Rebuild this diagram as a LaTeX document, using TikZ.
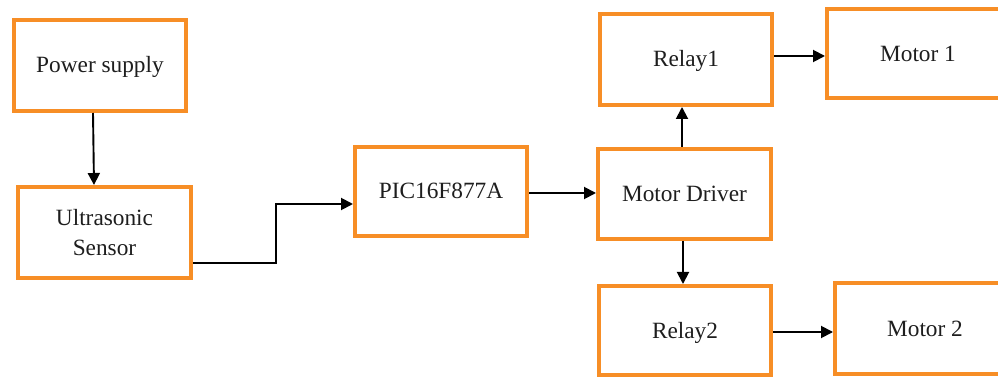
\documentclass[tikz,border=0pt]{standalone}
\usepackage{fontspec}
\setmainfont{Liberation Serif}
\usetikzlibrary{arrows.meta,calc}
\definecolor{boxorange}{RGB}{247,142,38}
\definecolor{txt}{RGB}{30,30,30}
\begin{document}
\begin{tikzpicture}[x=1pt,y=-1pt,
  blk/.style={draw=boxorange,line width=4pt,fill=white,minimum width=172pt,minimum height=90pt,
    inner sep=0pt,align=center,text=txt,font=\fontsize{23.3}{30}\selectfont},
  low/.style={text height=20pt,text depth=5pt},
  conn/.style={line width=1.9pt,black,-{Triangle[length=12pt,width=12pt]}}]
\useasboundingbox (0,0) rectangle (998,379);
\clip (0,0) rectangle (998,379);
\node[blk,low,minimum height=91pt] (ps) at (100,65.5) {Power supply};
\node[blk,minimum width=173pt,minimum height=91pt] (us) at (104.5,232.5) {Ultrasonic\\Sensor};
\node[blk,low,minimum height=89pt] (pic) at (441,191.5) {PIC16F877A};
\node[blk,low,minimum width=173pt] (md) at (684.5,194) {Motor Driver};
\node[blk,low,minimum height=91pt] (r1) at (686,59.5) {Relay1};
\node[blk,low,minimum height=89pt] (r2) at (685,330.5) {Relay2};
\node[blk,minimum width=182pt,minimum height=89pt] (m1) at (918,53.5) {Motor 1};
\node[blk,low,minimum width=180pt,minimum height=91pt] (m2) at (925,328.5) {Motor 2};
\draw[conn] ([xshift=-7pt]ps.south) -- ([xshift=-10.5pt]us.north);
\draw[conn] ([yshift=-30.5pt]us.east) -- ++(83,0) |- ([yshift=-12.5pt]pic.west);
\draw[conn] ([yshift=-1.5pt]pic.east) -- ([yshift=-1.5pt]pic.east -| md.west);
\draw[conn] ([xshift=-2.5pt]md.north) -- ([xshift=-2.5pt]md.north |- r1.south);
\draw[conn] ([xshift=-1.5pt]md.south) -- ([xshift=-1.5pt]md.south |- r2.north);
\draw[conn] ([yshift=3.5pt]r1.east) -- ([yshift=3.5pt]r1.east -| m1.west);
\draw[conn] ([yshift=-1.5pt]r2.east) -- ([yshift=-1.5pt]r2.east -| m2.west);
\end{tikzpicture}
\end{document}
